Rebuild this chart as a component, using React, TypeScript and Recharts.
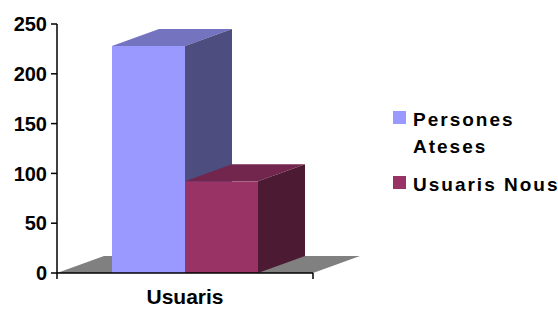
import { BarChart, Bar, XAxis, YAxis, ReferenceArea } from "recharts";

const categories = ["Usuaris"];
const personesAteses = [228];
const usuarisNous = [92];
const yTicks = [0, 50, 100, 150, 200, 250];
const seriesNames = ["Persones Ateses", "Usuaris Nous"];
const seriesColors = ["#9999FF", "#993366"];

const data = categories.map((name, i) => ({
  name,
  ateses: personesAteses[i],
  nous: usuarisNous[i],
}));

// depth of the fake 3D effect
const DX = 47;
const DY = 17;
const FONT = '"Liberation Sans", Arial, sans-serif';

const make3DBar = (top: string, side: string) => (props: any) => {
  const { x, y, width, height, fill } = props;
  const r = x + width;
  const b = y + height;
  return (
    <g>
      <rect x={x} y={y} width={width} height={height} fill={fill} />
      <polygon
        points={`${x},${y} ${x + DX},${y - DY} ${r + DX},${y - DY} ${r},${y}`}
        fill={top}
      />
      <polygon
        points={`${r},${y} ${r + DX},${y - DY} ${r + DX},${b - DY} ${r},${b}`}
        fill={side}
      />
    </g>
  );
};

const Floor = (props: any) => {
  const { x, y, width, height } = props;
  const b = y + height;
  const r = x + width;
  return (
    <g>
      <polygon
        points={`${x},${b} ${x + DX},${b - DY} ${r + DX},${b - DY} ${r},${b}`}
        fill="#808080"
      />
      <line x1={x} y1={b} x2={x} y2={b + 6} stroke="#000" strokeWidth={1.5} />
      <line x1={r} y1={b} x2={r} y2={b + 6} stroke="#000" strokeWidth={1.5} />
    </g>
  );
};

const CategoryTick = ({ x, y, payload }: any) => (
  <text
    x={x}
    y={y}
    dy={23}
    textAnchor="middle"
    fontFamily={FONT}
    fontWeight="bold"
    fontSize={21}
    fill="#000"
  >
    {payload.value}
  </text>
);

const ChartLegend = () => (
  <div
    style={{
      position: "absolute",
      left: 393,
      top: 106,
      width: 170,
      fontFamily: FONT,
      fontWeight: "bold",
      fontSize: 19,
      lineHeight: "27px",
      letterSpacing: 2,
      color: "#000",
    }}
  >
    {seriesNames.map((name, i) => (
      <div
        key={name}
        style={{ display: "flex", alignItems: "flex-start", marginTop: i ? 11 : 0 }}
      >
        <span
          style={{
            width: 13,
            height: 13,
            background: seriesColors[i],
            marginTop: 5,
            marginRight: 7,
            flexShrink: 0,
          }}
        />
        <span style={{ width: 150 }}>{name}</span>
      </div>
    ))}
  </div>
);

export default function App() {
  return (
    <div style={{ position: "absolute", left: 0, top: 0, width: 558, height: 309, background: "#fff" }}>
      <BarChart
        width={558}
        height={309}
        data={data}
        margin={{ top: 24, right: 245, left: 0, bottom: 0 }}
        barCategoryGap={55}
        barGap={0}
      >
        <ReferenceArea y1={0} y2={250} shape={<Floor />} />
        <XAxis
          dataKey="name"
          height={36}
          tickLine={false}
          axisLine={{ stroke: "#000", strokeWidth: 1.5 }}
          tick={<CategoryTick />}
        />
        <YAxis
          width={57}
          domain={[0, 250]}
          ticks={yTicks}
          interval={0}
          tickSize={6}
          tickMargin={4}
          axisLine={{ stroke: "#000", strokeWidth: 1.5 }}
          tickLine={{ stroke: "#000", strokeWidth: 1.5 }}
          tick={{ fill: "#000", fontSize: 20, fontWeight: "bold", fontFamily: FONT }}
        />
        <Bar
          dataKey="ateses"
          name={seriesNames[0]}
          fill={seriesColors[0]}
          shape={make3DBar("#7373C0", "#4D4D80")}
          isAnimationActive={false}
        />
        <Bar
          dataKey="nous"
          name={seriesNames[1]}
          fill={seriesColors[1]}
          shape={make3DBar("#73264D", "#4D1A33")}
          isAnimationActive={false}
        />
      </BarChart>
      <ChartLegend />
    </div>
  );
}
